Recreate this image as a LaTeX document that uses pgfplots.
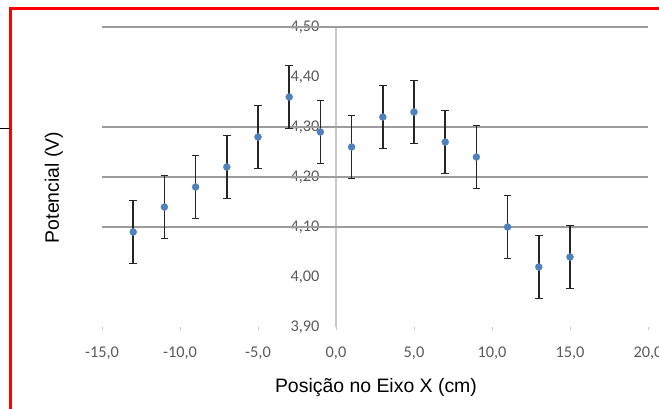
\documentclass[border=0pt]{standalone}
\usepackage{fontspec}
\setmainfont{Liberation Sans}
\newfontfamily\tickfont{Carlito}
\usepackage{pgfplots}
\pgfplotsset{compat=1.18}
\usepackage{pgfplotstable}

\definecolor{markblue}{HTML}{4F81BD}
\definecolor{gridgray}{HTML}{9C9C9C}
\definecolor{axisgray}{HTML}{C8C8C8}
\definecolor{ticktext}{HTML}{595959}

% position (cm), potential (V), uncertainty (V)
\pgfplotstableread{
x    y     err
-13  4.09  0.063
-11  4.14  0.063
-9   4.18  0.063
-7   4.22  0.063
-5   4.28  0.063
-3   4.36  0.063
-1   4.29  0.063
1    4.26  0.063
3    4.32  0.063
5    4.33  0.063
7    4.27  0.063
9    4.24  0.063
11   4.10  0.063
13   4.02  0.063
15   4.04  0.063
}\potencial

\begin{document}
\begin{tikzpicture}
\useasboundingbox (0bp,0bp) rectangle (659bp,409bp);
\begin{axis}[
  at={(102bp,82bp)}, anchor=south west,
  scale only axis, width=546bp, height=300bp,
  xmin=-15, xmax=20, ymin=3.9, ymax=4.5,
  clip=false,
  axis x line=bottom, axis y line=middle,
  x axis line style={draw=none},
  y axis line style={draw=axisgray, line width=1.2bp, -},
  hide obscured x ticks=false, hide obscured y ticks=false,
  xtick={-15,-10,-5,0,5,10,15,20},
  ytick={3.9,4.0,4.1,4.2,4.3,4.4,4.5},
  tick align=outside,
  major tick length=3bp,
  xtick style={draw=axisgray, line width=0.8bp},
  ytick style={draw=none},
  extra y ticks={4.1,4.2,4.3,4.5},
  extra y tick labels={},
  extra y tick style={grid=major, major grid style={draw=gridgray, line width=1.2bp}, tick style={draw=none}},
  /pgf/number format/assume math mode=true,
  tick label style={font=\tickfont\fontsize{16.4}{18}\selectfont, text=ticktext},
  xticklabel style={/pgf/number format/fixed, /pgf/number format/fixed zerofill,
    /pgf/number format/precision=1, /pgf/number format/use comma, yshift=-13bp},
  yticklabel style={/pgf/number format/fixed, /pgf/number format/fixed zerofill,
    /pgf/number format/precision=2, /pgf/number format/use comma, anchor=east, xshift=-10bp},
]
\addplot[only marks, mark=*, mark size=3.5bp,
  mark options={draw=markblue, fill=markblue},
  error bars/.cd, y dir=both, y explicit,
  error bar style={line width=1.7bp, black!85},
  error mark options={rotate=90, mark size=3.8bp, line width=1.7bp, black!85}]
  table[x=x, y=y, y error=err] {\potencial};

\node[anchor=base, font=\fontsize{19.5}{22}\selectfont] at (axis description cs:0.5018,-0.22) {Posição no Eixo X (cm)};
\node[rotate=90, anchor=base, font=\fontsize{19.5}{22}\selectfont] at (axis description cs:-0.0788,0.465) {Potencial (V)};
\end{axis}
% frame of the chart area
\draw[red, line width=2.7bp] (10.7bp,0bp) -- (10.7bp,400.3bp) -- (659bp,400.3bp);
\draw[black, line width=1.3bp] (0bp,280.7bp) -- (10bp,280.7bp);
\end{tikzpicture}
\end{document}
